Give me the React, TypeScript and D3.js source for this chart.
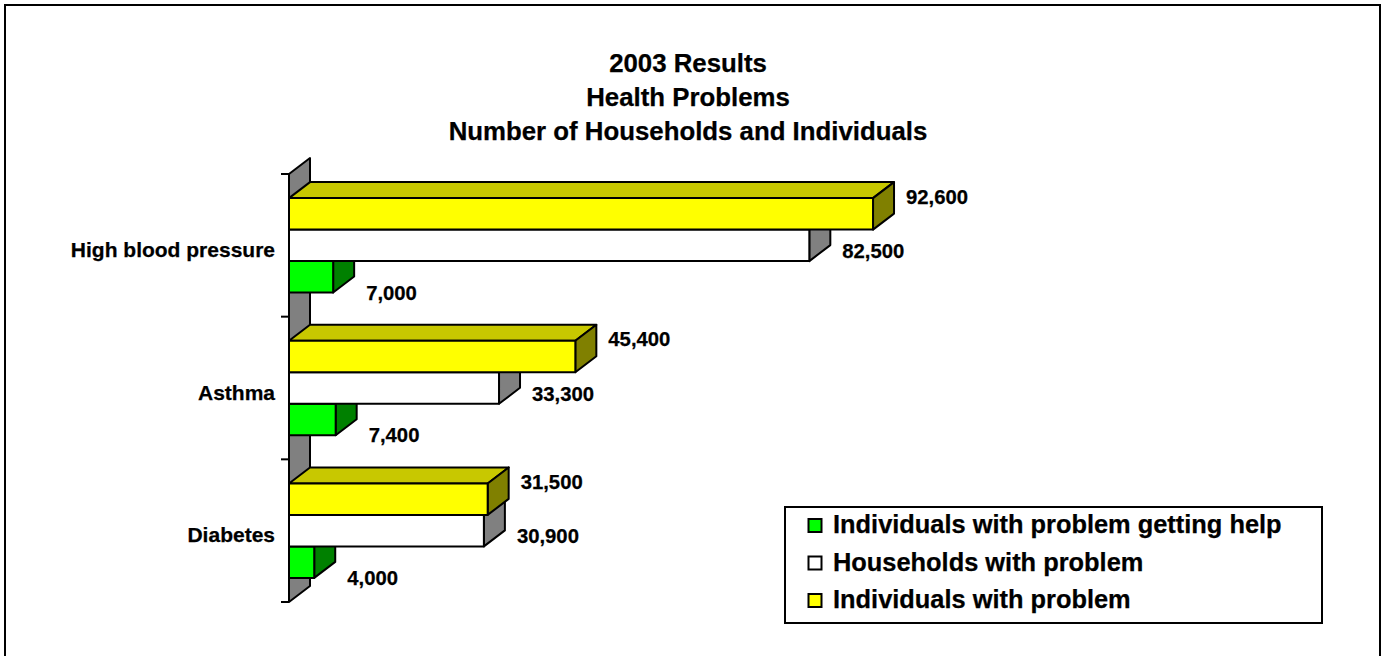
import React from 'react';
import * as d3 from 'd3';

// ---- Data ----
const categories = ['High blood pressure', 'Asthma', 'Diabetes'];
const seriesNames = [
  'Individuals with problem',
  'Households with problem',
  'Individuals with problem getting help',
];
const individualsWithProblem = [92600, 45400, 31500];
const householdsWithProblem = [82500, 33300, 30900];
const individualsGettingHelp = [7000, 7400, 4000];
const titleLines = ['2003 Results', 'Health Problems', 'Number of Households and Individuals'];
const legendOrder = [2, 1, 0];
const axisMax = 100000;

// ---- Styles ----
const seriesStyle = [
  { front: '#FFFF00', top: '#C8C800', side: '#808000', labelDy: -2 },
  { front: '#FFFFFF', top: '#C0C0C0', side: '#808080', labelDy: 21 },
  { front: '#00FF00', top: '#00C000', side: '#008000', labelDy: 31 },
];
const FONT = 'Arial, "Liberation Sans", sans-serif';
const DX = 21;
const DY = -16;
const SW = 2;

export default function App() {
  const W = 1385;
  const H = 656;
  const left = 289;
  const top = 174;
  const bottom = 602;

  const seriesValues = [individualsWithProblem, householdsWithProblem, individualsGettingHelp];

  const x = d3.scaleLinear().domain([0, axisMax]).range([left, 919.7]);
  const y = d3.scaleBand<string>().domain(categories).range([top, bottom]).paddingInner(0).paddingOuter(0);
  const ys = d3
    .scaleBand<number>()
    .domain([0, 1, 2])
    .range([0, y.bandwidth()])
    .paddingInner(0)
    .paddingOuter(0.765);

  const fmt = d3.format(',');

  const poly = (pts: [number, number][]) => pts.map((p) => p.join(',')).join(' ');

  const bars: JSX.Element[] = [];
  const labels: JSX.Element[] = [];
  const catOrder = [...categories.keys()].reverse();
  catOrder.forEach((ci) => {
    [2, 1, 0].forEach((si) => {
      const v = seriesValues[si][ci];
      const y0 = (y(categories[ci]) as number) + (ys(si) as number);
      const h = ys.bandwidth();
      const x0 = x(0);
      const x1 = x(v);
      const st = seriesStyle[si];
      bars.push(
        <g key={`b-${ci}-${si}`} stroke="#000" strokeWidth={SW} strokeLinejoin="round">
          <polygon
            points={poly([
              [x0, y0],
              [x1, y0],
              [x1 + DX, y0 + DY],
              [x0 + DX, y0 + DY],
            ])}
            fill={st.top}
          />
          <polygon
            points={poly([
              [x1, y0],
              [x1 + DX, y0 + DY],
              [x1 + DX, y0 + h + DY],
              [x1, y0 + h],
            ])}
            fill={st.side}
          />
          <rect x={x0} y={y0} width={x1 - x0} height={h} fill={st.front} />
        </g>
      );
      labels.push(
        <text
          key={`l-${ci}-${si}`}
          x={x1 + DX + 12}
          y={y0 + st.labelDy + 7.5}
          fontFamily={FONT}
          fontWeight="bold"
          fontSize={20.3}
          fill="#000"
          stroke="#000"
          strokeWidth={0.25}
        >
          {fmt(v)}
        </text>
      );
    });
  });

  const tickYs = [...categories.map((c) => y(c) as number), bottom];

  return (
    <svg
      width={W}
      height={H}
      style={{ position: 'absolute', left: 0, top: 0, background: '#fff' }}
    >
      <rect x={0} y={0} width={W} height={H} fill="#fff" />
      <rect x={5} y={5} width={1375} height={660} fill="none" stroke="#000" strokeWidth={2} />

      {titleLines.map((t, i) => (
        <text
          key={t}
          x={688}
          y={72 + i * 34}
          textAnchor="middle"
          fontFamily={FONT}
          fontWeight="bold"
          fontSize={25.8}
          fill="#000"
          stroke="#000"
          strokeWidth={0.25}
        >
          {t}
        </text>
      ))}

      <polygon
        points={poly([
          [left, top],
          [left + DX, top + DY],
          [left + DX, bottom + DY],
          [left, bottom],
        ])}
        fill="#808080"
        stroke="#000"
        strokeWidth={SW}
        strokeLinejoin="round"
      />

      {tickYs.map((ty, i) => (
        <line key={i} x1={281} x2={left} y1={ty} y2={ty} stroke="#000" strokeWidth={SW} />
      ))}

      {bars}
      {labels}

      {categories.map((c) => (
        <text
          key={c}
          x={275}
          y={(y(c) as number) + y.bandwidth() / 2 + 11.5}
          textAnchor="end"
          fontFamily={FONT}
          fontWeight="bold"
          fontSize={21}
          fill="#000"
          stroke="#000"
          strokeWidth={0.25}
        >
          {c}
        </text>
      ))}

      <g>
        <rect x={785} y={507} width={537} height={116} fill="#fff" stroke="#000" strokeWidth={2} />
        {legendOrder.map((si, i) => (
          <g key={si}>
            <rect
              x={808.5}
              y={519 + i * 37.5}
              width={13}
              height={13}
              fill={seriesStyle[si].front}
              stroke="#000"
              strokeWidth={2}
            />
            <text
              x={833}
              y={533 + i * 37.5}
              fontFamily={FONT}
              fontWeight="bold"
              fontSize={25.4}
              fill="#000"
              stroke="#000"
              strokeWidth={0.25}
            >
              {seriesNames[si]}
            </text>
          </g>
        ))}
      </g>
    </svg>
  );
}
